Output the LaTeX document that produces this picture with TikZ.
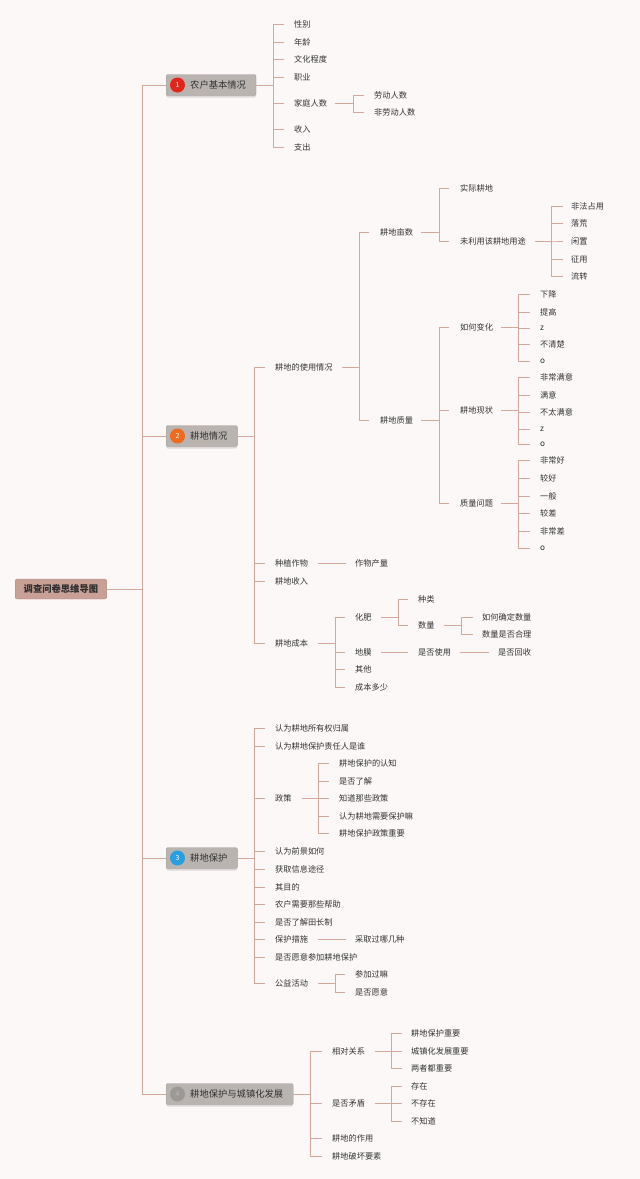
\documentclass[tikz,border=0pt]{standalone}
\usepackage{fontspec}
\setmainfont{Noto Sans CJK SC}
\usetikzlibrary{calc,shadows}
\definecolor{bg}{HTML}{FDF8F8}
\definecolor{ln}{HTML}{D6A89C}
\definecolor{tx}{HTML}{333333}
\definecolor{rootc}{HTML}{C9A096}
\definecolor{boxc}{HTML}{B9B4B0}
\definecolor{boxd}{HTML}{A39E9A}
\definecolor{numa}{HTML}{E0261B}
\definecolor{numb}{HTML}{EE6A1E}
\definecolor{numc}{HTML}{2A9FE0}
\definecolor{numd}{HTML}{9C9896}
\tikzset{
  lf/.style={anchor=west, inner sep=0pt, text=tx, font=\fontsize{8.2pt}{10pt}\selectfont, execute at begin node=\vphantom{国}},
  cl/.style={draw=ln, line width=0.9pt},
  topic/.style={anchor=west, draw=boxd, fill=boxc, rounded corners=1.5pt, minimum height=21pt, inner sep=0pt, text=tx,
    font=\fontsize{9.3pt}{11pt}\selectfont,
    drop shadow={shadow xshift=0pt, shadow yshift=-2pt, opacity=0.25}},
  num/.style={circle, inner sep=0pt, minimum size=15pt, text=white, font=\fontsize{7pt}{8pt}\selectfont},
  rootbox/.style={anchor=west, fill=rootc, draw=rootc!85!black, rounded corners=2pt, minimum height=20pt, inner xsep=8.5pt, inner ysep=0pt,
    text=tx!90!black, font=\fontsize{9.3pt}{11pt}\selectfont\bfseries},
}
% #1 parent, #2 start gap, #3 bracket x, #4 end gap, #5 children
\newcommand\links[5]{\foreach \ch in {#5}{\draw[cl] let \p1=(#1.east) in (\x1+#2,\y1) -- (#3pt,\y1) |- ([xshift=-#4]\ch.west);}}
\begin{document}
\begin{tikzpicture}[x=1pt,y=-1pt]
\fill[bg] (0,0) rectangle (640,1179);
\useasboundingbox (0,0) rectangle (640,1179);

% root
\node[rootbox] (root) at (15,589) {调查问卷思维导图};

% level 1
\node[topic] (n1) at (166,85) {\hspace*{24pt}农户基本情况\hspace*{10pt}};
\node[topic] (n2) at (166,436) {\hspace*{24pt}耕地情况\hspace*{10pt}};
\node[topic] (n3) at (166,858) {\hspace*{24pt}耕地保护\hspace*{10pt}};
\node[topic] (n4) at (166,1094) {\hspace*{24pt}耕地保护与城镇化发展\hspace*{10pt}};
\node[num, fill=numa] (k1) at ([xshift=11.5pt]n1.west) {1};
\node[num, fill=numb] (k2) at ([xshift=11.5pt]n2.west) {2};
\node[num, fill=numc] (k3) at ([xshift=11.5pt]n3.west) {3};
\node[num, fill=numd, text=numd!70!white] (k4) at ([xshift=11.5pt]n4.west) {4};

% branch 1
\node[lf] (a1) at (294,24) {性别};
\node[lf] (a2) at (294,42) {年龄};
\node[lf] (a3) at (294,59) {文化程度};
\node[lf] (a4) at (294,77) {职业};
\node[lf] (a5) at (294,103) {家庭人数};
\node[lf] (a6) at (294,129) {收入};
\node[lf] (a7) at (294,147) {支出};
\node[lf] (a51) at (374,95) {劳动人数};
\node[lf] (a52) at (374,112) {非劳动人数};

% branch 2
\node[lf] (b1) at (275,367) {耕地的使用情况};
\node[lf] (b2) at (275,563) {种植作物};
\node[lf] (b3) at (275,581) {耕地收入};
\node[lf] (b4) at (275,643) {耕地成本};
\node[lf] (b11) at (380,232) {耕地亩数};
\node[lf] (b12) at (380,420) {耕地质量};
\node[lf] (b111) at (460,188) {实际耕地};
\node[lf] (b112) at (460,241) {未利用该耕地用途};
\node[lf] (e1) at (571,206) {非法占用};
\node[lf] (e2) at (571,223) {落荒};
\node[lf] (e3) at (571,241) {闲置};
\node[lf] (e4) at (571,259) {征用};
\node[lf] (e5) at (571,276) {流转};
\node[lf] (b121) at (460,327) {如何变化};
\node[lf] (b122) at (460,410) {耕地现状};
\node[lf] (b123) at (460,503) {质量问题};
\node[lf] (f1) at (540,294) {下降};
\node[lf] (f2) at (540,312) {提高};
\node[lf] (f3) at (540,328) {z};
\node[lf] (f4) at (540,344) {不清楚};
\node[lf] (f5) at (540,361) {o};
\node[lf] (g1) at (540,377) {非常满意};
\node[lf] (g2) at (540,395) {满意};
\node[lf] (g3) at (540,412) {不太满意};
\node[lf] (g4) at (540,429) {z};
\node[lf] (g5) at (540,444) {o};
\node[lf] (h1) at (540,460) {非常好};
\node[lf] (h2) at (540,478) {较好};
\node[lf] (h3) at (540,496) {一般};
\node[lf] (h4) at (540,513) {较差};
\node[lf] (h5) at (540,531) {非常差};
\node[lf] (h6) at (540,548) {o};
\node[lf] (b21) at (355,563) {作物产量};
\node[lf] (b41) at (355,617) {化肥};
\node[lf] (b42) at (355,652) {地膜};
\node[lf] (b43) at (355,669) {其他};
\node[lf] (b44) at (355,687) {成本多少};
\node[lf] (b411) at (418,599) {种类};
\node[lf] (b412) at (418,625) {数量};
\node[lf] (b4121) at (482,617) {如何确定数量};
\node[lf] (b4122) at (482,634) {数量是否合理};
\node[lf] (b421) at (418,652) {是否使用};
\node[lf] (b4211) at (498,652) {是否回收};

% branch 3
\node[lf] (c1) at (275,728) {认为耕地所有权归属};
\node[lf] (c2) at (275,746) {认为耕地保护责任人是谁};
\node[lf] (c3) at (275,798) {政策};
\node[lf] (c4) at (275,851) {认为前景如何};
\node[lf] (c5) at (275,869) {获取信息途径};
\node[lf] (c6) at (275,887) {其目的};
\node[lf] (c7) at (275,904) {农户需要那些帮助};
\node[lf] (c8) at (275,922) {是否了解田长制};
\node[lf] (c9) at (275,939) {保护措施};
\node[lf] (c10) at (275,957) {是否愿意参加耕地保护};
\node[lf] (c11) at (275,983) {公益活动};
\node[lf] (c31) at (339,763) {耕地保护的认知};
\node[lf] (c32) at (339,781) {是否了解};
\node[lf] (c33) at (339,798) {知道那些政策};
\node[lf] (c34) at (339,816) {认为耕地需要保护嘛};
\node[lf] (c35) at (339,833) {耕地保护政策重要};
\node[lf] (c91) at (355,939) {采取过哪几种};
\node[lf] (c111) at (355,974) {参加过嘛};
\node[lf] (c112) at (355,992) {是否愿意};

% branch 4
\node[lf] (d1) at (332,1051) {相对关系};
\node[lf] (d2) at (332,1103) {是否矛盾};
\node[lf] (d3) at (332,1138) {耕地的作用};
\node[lf] (d4) at (332,1156) {耕地破坏要素};
\node[lf] (d11) at (411,1033) {耕地保护重要};
\node[lf] (d12) at (411,1051) {城镇化发展重要};
\node[lf] (d13) at (411,1068) {两者都重要};
\node[lf] (d21) at (411,1086) {存在};
\node[lf] (d22) at (411,1103) {不存在};
\node[lf] (d23) at (411,1121) {不知道};

% connectors
\links{root}{0pt}{142}{0pt}{n1,n2,n3,n4}
\links{n1}{0pt}{273}{10pt}{a1,a2,a3,a4,a5,a6,a7}
\links{a5}{8pt}{353}{10pt}{a51,a52}
\links{n2}{0pt}{254}{10pt}{b1,b2,b3,b4}
\links{b1}{9pt}{359}{11pt}{b11,b12}
\links{b11}{8pt}{439}{11pt}{b111,b112}
\links{b112}{9pt}{551}{8pt}{e1,e2,e3,e4,e5}
\links{b12}{8pt}{439}{11pt}{b121,b122,b123}
\links{b121}{8pt}{518}{10pt}{f1,f2,f3,f4,f5}
\links{b122}{8pt}{518}{10pt}{g1,g2,g3,g4,g5}
\links{b123}{8pt}{518}{10pt}{h1,h2,h3,h4,h5,h6}
\links{b2}{10pt}{330}{9pt}{b21}
\links{b4}{10pt}{335}{10pt}{b41,b42,b43,b44}
\links{b41}{9pt}{398}{10pt}{b411,b412}
\links{b412}{9pt}{461}{9pt}{b4121,b4122}
\links{b42}{9pt}{400}{10pt}{b421}
\links{b421}{9pt}{470}{9pt}{b4211}
\links{n3}{0pt}{254}{10pt}{c1,c2,c3,c4,c5,c6,c7,c8,c9,c10,c11}
\links{c3}{10pt}{318}{10pt}{c31,c32,c33,c34,c35}
\links{c9}{10pt}{330}{9pt}{c91}
\links{c11}{10pt}{335}{10pt}{c111,c112}
\links{n4}{0pt}{310}{10pt}{d1,d2,d3,d4}
\links{d1}{10pt}{391}{9pt}{d11,d12,d13}
\links{d2}{10pt}{391}{9pt}{d21,d22,d23}
\end{tikzpicture}
\end{document}
